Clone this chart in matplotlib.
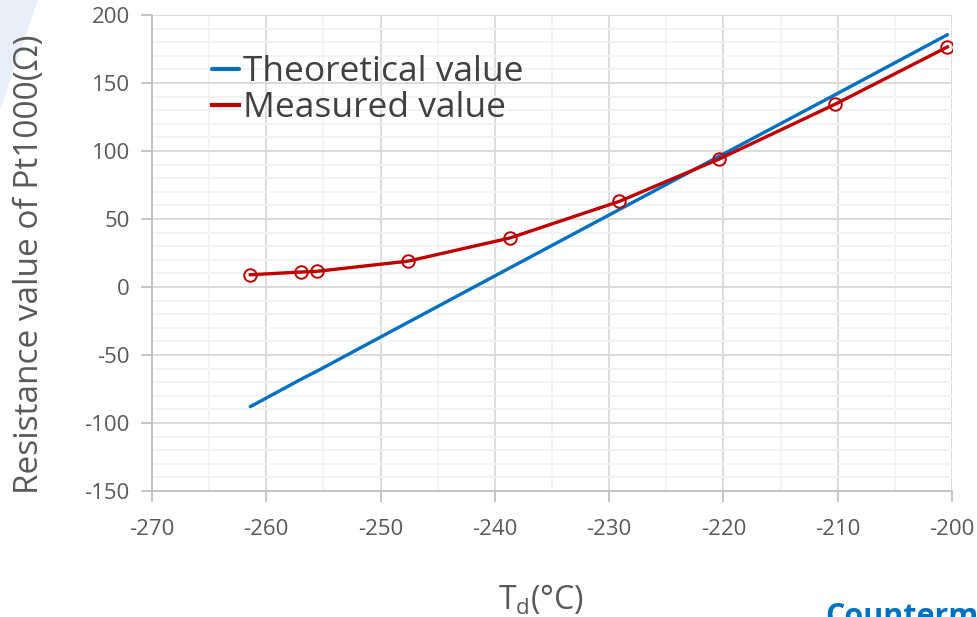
import matplotlib
matplotlib.use("Agg")
import matplotlib.pyplot as plt
from matplotlib.patches import Polygon
from matplotlib.ticker import MultipleLocator

# Data
temp_c = [-261.4, -257.0, -255.6, -247.6, -238.7, -229.1, -220.4, -210.2, -200.4]
measured = [9, 11, 11.5, 19, 36, 63, 94, 134.5, 176.5]
theoretical = [-88, -68, -62, -26, 14, 57, 96, 141.5, 185.5]

x_ticks = [-270, -260, -250, -240, -230, -220, -210, -200]
y_ticks = [-150, -100, -50, 0, 50, 100, 150, 200]

plt.rcParams['font.family'] = ['Open Sans', 'DejaVu Sans']
plt.rcParams['axes.unicode_minus'] = False

fig = plt.figure(figsize=(9.77, 6.17), dpi=100)
fig.patch.set_facecolor('white')

# light blue decorative shape at top-left
fig.patches.append(Polygon([[0, 1], [38/977, 1], [0, 1-110/617]], closed=True,
                           transform=fig.transFigure, facecolor='#E9EFF9',
                           edgecolor='none', zorder=0))

ax = fig.add_axes([152/977, (617-491)/617, 800/977, 476/617])
ax.set_xlim(-270, -200)
ax.set_ylim(-150, 200)
ax.set_xticks(x_ticks)
ax.set_yticks(y_ticks)
ax.xaxis.set_minor_locator(MultipleLocator(5))
ax.yaxis.set_minor_locator(MultipleLocator(10))
ax.grid(which='major', color='#D9D9D9', linewidth=1.3, zorder=0)
ax.grid(which='minor', color='#F2F2F2', linewidth=1.3, zorder=0)
ax.set_axisbelow(True)
for s in ['top', 'right']:
    ax.spines[s].set_visible(False)
for s in ['left', 'bottom']:
    ax.spines[s].set_color('#BFBFBF')
    ax.spines[s].set_linewidth(1.3)
ax.tick_params(which='major', direction='out', length=8, width=1.3, color='#BFBFBF',
               labelsize=16, labelcolor='#595959')
ax.tick_params(axis='x', pad=12)
ax.tick_params(axis='y', pad=8)
ax.tick_params(which='minor', length=0)

ax.plot(temp_c, theoretical, color='#0070C0', linewidth=2.4, label='Theoretical value',
        solid_capstyle='round', zorder=3)
ax.plot(temp_c, measured, color='#C00000', linewidth=2.4, marker='o', markersize=9,
        markerfacecolor='none', markeredgecolor='#C00000', markeredgewidth=1.4,
        label='Measured value', zorder=4)

leg = ax.legend(loc='upper left', bbox_to_anchor=(212/977, 1-55/617),
                bbox_transform=fig.transFigure, frameon=False, fontsize=25.5,
                handlelength=0.75, handletextpad=0.12, labelspacing=0.06,
                borderpad=0, borderaxespad=0, labelcolor='#404040')
for h in leg.get_lines():
    h.set_marker('')
    h.set_linewidth(3)

fig.text(30/977, 1-264/617, 'Resistance value of Pt1000(Ω)', rotation=90,
         ha='center', va='center', fontsize=24, color='#595959')
fig.text(541/977, 1-600/617, r'T$_\mathregular{d}$(°C)', ha='center', va='center',
         fontsize=23, color='#595959')
fig.text(825/977, 1-617/617, 'Countermeasure', ha='left', va='center',
         fontsize=22, color='#0070C0', fontweight='bold')

fig.savefig('out.png', dpi=100)
